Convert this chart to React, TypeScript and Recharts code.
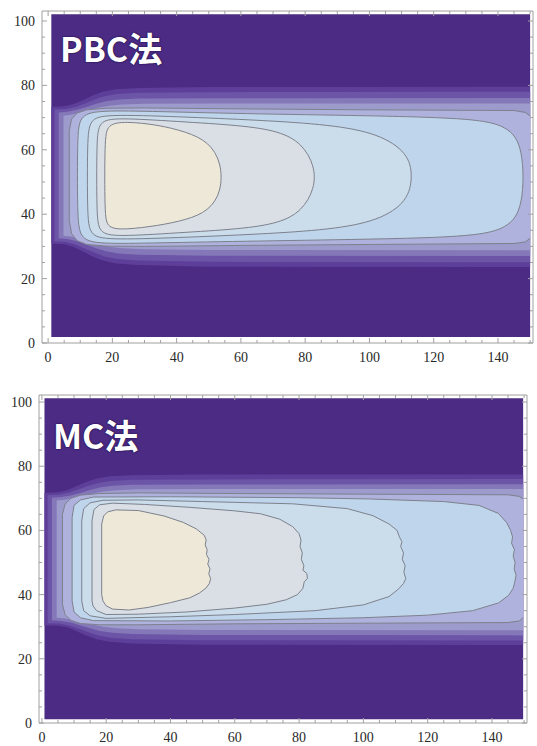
import { ScatterChart, Scatter, XAxis, YAxis } from 'recharts'

type Pt = [number, number]

// frame ticks (every 5, labelled every 20)
const xTicks = [0, 5, 10, 15, 20, 25, 30, 35, 40, 45, 50, 55, 60, 65, 70, 75, 80, 85, 90, 95, 100, 105, 110, 115, 120, 125, 130, 135, 140, 145, 150]
const yTicks = [0, 5, 10, 15, 20, 25, 30, 35, 40, 45, 50, 55, 60, 65, 70, 75, 80, 85, 90, 95, 100]
const xLabels = [0, 20, 40, 60, 80, 100, 120, 140]
const yLabels = [0, 20, 40, 60, 80, 100]

const levelColors = ['#4B2B84', '#5D3F99', '#6C54A7', '#8478B9', '#9D9ACC', '#AFB2DC', '#BFD5EC', '#CBDCEB', '#D9DFE5', '#EEE8D8']
const lineColor = '#7D818C'
const frameColor = '#A0A0A0'

// ---------- PBC法 ----------
const pbcBackground: Pt[] = [[1, 1.9], [150, 1.9], [150, 102.1], [1, 102.1]]
const pbcBand1: Pt[] = [[1, 73.3], [5, 73.5], [8, 74.2], [11, 75.5], [14, 76.9], [17, 78], [21, 78.8], [28, 79.2], [50, 79.5], [150, 79.6], [150, 23.6], [50, 23.7], [28, 24.2], [21, 24.7], [17, 25.6], [14, 26.8], [11, 28.3], [8, 29.8], [5, 30.7], [1, 30.9]]
const pbcBand2: Pt[] = [[2, 72.5], [5.5, 72.7], [8.5, 73.3], [11.5, 74.4], [14.5, 75.6], [17.5, 76.6], [21.5, 77.3], [28, 77.7], [50, 77.9], [150, 78], [150, 25.1], [50, 25.2], [28, 25.6], [21.5, 26.1], [17.5, 26.9], [14.5, 28], [11.5, 29.3], [8.5, 30.6], [5.5, 31.4], [2, 31.6]]
const pbcBand3: Pt[] = [[3.3, 71.6], [6, 71.8], [9, 72.4], [12, 73.3], [15, 74.3], [18, 75.1], [22, 75.6], [28, 75.9], [50, 76], [150, 76.1], [150, 27], [50, 27.1], [28, 27.4], [22, 27.8], [18, 28.5], [15, 29.4], [12, 30.5], [9, 31.6], [6, 32.3], [3.3, 32.5]]
const pbcBand4: Pt[] = [[4.8, 70.6], [7, 70.9], [10, 71.5], [13, 72.3], [16, 73.1], [19, 73.7], [23, 74.1], [30, 74.3], [50, 74.4], [150, 74.4], [150, 28.8], [50, 28.9], [30, 29.1], [23, 29.4], [19, 29.9], [16, 30.6], [13, 31.5], [10, 32.4], [7, 33.1], [4.8, 33.3]]
const pbcLevel5: Pt[] = [[150, 70.5], [148.5, 71.6], [145, 72.2], [100, 72.4], [60, 72.7], [30, 73], [18, 72.9], [12, 72.4], [9, 71.4], [7.3, 69.5], [6.6, 66], [6.6, 38], [7.3, 34], [9, 31.8], [12, 30.6], [18, 30.1], [30, 30], [60, 30.3], [100, 30.6], [145, 30.9], [148.5, 31.4], [150, 32.5]]
const pbcLevel6: Pt[] = [[9.1, 40], [9.1, 64], [9.8, 70.5], [15, 72.2], [30, 72], [60, 71.2], [100, 70.6], [132, 69.8], [143, 67.5], [148, 61], [148, 42], [143, 35.5], [132, 33], [100, 32.2], [60, 31.6], [30, 31], [15, 30.8], [9.8, 32.5]]
const pbcLevel7: Pt[] = [[12.2, 40], [12.2, 63], [12.9, 69.5], [18, 71], [40, 70.3], [66, 69.2], [88, 67.8], [103, 65], [112, 59], [113.5, 52], [112, 44], [103, 38], [88, 35.2], [66, 33.8], [40, 32.7], [18, 32], [12.9, 33.5]]
const pbcLevel8: Pt[] = [[15.1, 40], [15.1, 63], [15.8, 68.8], [21, 70], [40, 68.8], [60, 67.6], [72, 65.8], [79, 62], [83, 55], [83, 48], [79, 41], [72, 37.2], [60, 35.4], [40, 34.2], [21, 33], [15.8, 34.2]]
const pbcLevel9: Pt[] = [[17.6, 40], [17.6, 63], [18.4, 68], [24, 68.8], [34, 67.8], [43, 65.6], [50, 62.5], [54, 56], [54, 47], [50, 41], [43, 38.2], [34, 36.4], [24, 35.2], [18.4, 35.6]]

// ---------- MC法 ----------
const mcBackground: Pt[] = [[0.8, 1.2], [149.7, 1.2], [149.7, 101.2], [0.8, 101.2]]
const mcBand1: Pt[] = [[0.8, 71.7], [5, 71.9], [8, 72.6], [11, 73.9], [14, 75.2], [17, 76.2], [21, 76.9], [28, 77.2], [50, 77.4], [149.7, 77.4], [149.7, 24.3], [50, 24.4], [28, 24.8], [21, 25.3], [17, 26.1], [14, 27.2], [11, 28.5], [8, 29.8], [5, 30.3], [0.8, 30.4]]
const mcBand2: Pt[] = [[1.8, 71], [5.5, 71.2], [8.5, 71.8], [11.5, 72.8], [14.5, 73.9], [17.5, 74.8], [21.5, 75.4], [28, 75.8], [50, 75.9], [149.7, 76], [149.7, 25.7], [50, 25.8], [28, 26.1], [21.5, 26.6], [17.5, 27.3], [14.5, 28.3], [11.5, 29.4], [8.5, 30.4], [5.5, 31], [1.8, 31.1]]
const mcBand3: Pt[] = [[3.1, 70.2], [6, 70.4], [9, 70.9], [12, 71.7], [15, 72.6], [18, 73.4], [22, 73.9], [28, 74.2], [50, 74.3], [149.7, 74.4], [149.7, 27.3], [50, 27.4], [28, 27.7], [22, 28.1], [18, 28.7], [15, 29.5], [12, 30.4], [9, 31.3], [6, 31.8], [3.1, 32]]
const mcBand4: Pt[] = [[4.6, 69.3], [7, 69.6], [10, 70.1], [13, 70.8], [16, 71.5], [19, 72.1], [23, 72.5], [30, 72.8], [50, 72.9], [149.7, 72.9], [149.7, 28.9], [50, 29], [30, 29.2], [23, 29.5], [19, 30], [16, 30.6], [13, 31.3], [10, 32], [7, 32.6], [4.6, 32.8]]
const mcLevel5: Pt[] = [[149.7, 69.8], [148.5, 70.6], [145, 71.1], [100, 71.3], [60, 71.5], [30, 71.7], [18, 71.5], [12, 71], [9, 70], [7.2, 68.2], [6.4, 65], [6.4, 37], [7.2, 33.8], [9, 32], [12, 31], [18, 30.6], [30, 30.6], [60, 30.9], [100, 31.1], [145, 31.3], [148.5, 31.8], [149.7, 32.8]]
const mcLevel6: Pt[] = [[9.4, 38], [9.4, 64], [10, 67.8], [12, 69.5], [16, 70.4], [40, 70.5], [80, 70.2], [102, 69.8], [125, 69], [136, 67.8], [142, 65.3], [144.6, 62.4], [145.8, 60], [146.4, 58], [146.1, 56], [147, 54], [146.6, 52], [147.2, 50], [146.9, 48], [147.5, 46], [147.1, 44], [146.6, 42], [145.2, 39.8], [142, 37.4], [134, 35], [120, 33.6], [100, 32.8], [70, 32.2], [40, 31.8], [16, 31.9], [12, 32.8], [10, 34.6]]
const mcLevel7: Pt[] = [[12.4, 38], [12.4, 63], [13, 66.8], [15, 68.6], [19, 69.4], [30, 69.5], [50, 69], [78, 68.3], [95, 66.8], [103, 64.6], [108, 62], [110.5, 60], [111.2, 58], [112, 56.5], [111.6, 55], [112.5, 53], [112.1, 51], [113, 49], [112.6, 47], [113.2, 45], [112.5, 43.5], [111, 41.8], [108, 39.4], [100, 36.8], [85, 35], [60, 33.8], [40, 33.1], [20, 32.6], [15, 33.4], [13, 35]]
const mcLevel8: Pt[] = [[15.6, 38], [15.6, 63], [16.2, 66.5], [18, 68], [22, 68.5], [32, 68.1], [46, 67.2], [60, 66.1], [68, 65.2], [74, 63.5], [78, 61.2], [80, 59], [80.6, 57], [80.3, 55], [81, 53], [80.7, 51], [81.5, 49], [81.2, 47.6], [82.4, 46.6], [82.6, 45], [81.6, 44], [81.2, 42], [79.5, 40], [76, 38.4], [70, 37], [60, 35.8], [45, 34.6], [30, 33.9], [20, 33.8], [17, 35], [15.9, 36.5]]
const mcLevel9: Pt[] = [[18.6, 40], [18.6, 62], [19.2, 64.5], [20.5, 65.8], [23, 66.4], [30, 66.2], [38, 64.5], [44, 62.5], [48, 60.5], [50.5, 58.5], [51.1, 57], [50.8, 55.5], [51.4, 54], [51.2, 52.5], [52, 51], [51.6, 49.5], [52.3, 48], [51.9, 46.5], [52.5, 45], [52.1, 43.5], [51, 42], [49, 40.5], [46, 39], [40, 37.5], [33, 36], [27, 35.2], [22, 35.5], [20, 36.5], [19, 38]]

interface Level {
  pts: Pt[]
  fill: string
  stroke?: string
  curve: 'linearClosed' | 'basisClosed' | 'linear'
}

const pbcLevels: Level[] = [
  { pts: pbcBackground, fill: levelColors[0], curve: 'linearClosed' },
  { pts: pbcBand1, fill: levelColors[1], curve: 'linearClosed' },
  { pts: pbcBand2, fill: levelColors[2], curve: 'linearClosed' },
  { pts: pbcBand3, fill: levelColors[3], curve: 'linearClosed' },
  { pts: pbcBand4, fill: levelColors[4], curve: 'linearClosed' },
  { pts: pbcLevel5, fill: levelColors[5], curve: 'linearClosed' },
  { pts: pbcLevel5, fill: 'none', stroke: lineColor, curve: 'linear' },
  { pts: pbcLevel6, fill: levelColors[6], stroke: lineColor, curve: 'basisClosed' },
  { pts: pbcLevel7, fill: levelColors[7], stroke: lineColor, curve: 'basisClosed' },
  { pts: pbcLevel8, fill: levelColors[8], stroke: lineColor, curve: 'basisClosed' },
  { pts: pbcLevel9, fill: levelColors[9], stroke: lineColor, curve: 'basisClosed' },
]

const mcLevels: Level[] = [
  { pts: mcBackground, fill: levelColors[0], curve: 'linearClosed' },
  { pts: mcBand1, fill: levelColors[1], curve: 'linearClosed' },
  { pts: mcBand2, fill: levelColors[2], curve: 'linearClosed' },
  { pts: mcBand3, fill: levelColors[3], curve: 'linearClosed' },
  { pts: mcBand4, fill: levelColors[4], curve: 'linearClosed' },
  { pts: mcLevel5, fill: levelColors[5], curve: 'linearClosed' },
  { pts: mcLevel5, fill: 'none', stroke: lineColor, curve: 'linear' },
  { pts: mcLevel6, fill: levelColors[6], stroke: lineColor, curve: 'linearClosed' },
  { pts: mcLevel7, fill: levelColors[7], stroke: lineColor, curve: 'linearClosed' },
  { pts: mcLevel8, fill: levelColors[8], stroke: lineColor, curve: 'linearClosed' },
  { pts: mcLevel9, fill: levelColors[9], stroke: lineColor, curve: 'linearClosed' },
]

const tickStyle = { fontFamily: '"Liberation Serif", "DejaVu Serif", serif', fontSize: 14 }
const tickFill = '#2a2a2a'

const hidden = () => <g />

const BottomTick = ({ x, y, payload }: any) => {
  const v = payload.value
  const major = xLabels.includes(v)
  return (
    <g>
      <line x1={x} x2={x} y1={y} y2={y - (major ? 5 : 3)} stroke={frameColor} />
      {major && (
        <text x={x} y={y + 19} textAnchor="middle" fill={tickFill} style={tickStyle}>{v}</text>
      )}
    </g>
  )
}

const TopTick = ({ x, y, payload }: any) => {
  const major = xLabels.includes(payload.value)
  return <line x1={x} x2={x} y1={y} y2={y + (major ? 5 : 3)} stroke={frameColor} />
}

const LeftTick = ({ x, y, payload }: any) => {
  const v = payload.value
  const major = yLabels.includes(v)
  return (
    <g>
      <line x1={x} x2={x + (major ? 5 : 3)} y1={y} y2={y} stroke={frameColor} />
      {major && (
        <text x={x - 7} y={y + 5} textAnchor="end" fill={tickFill} style={tickStyle}>{v}</text>
      )}
    </g>
  )
}

const RightTick = ({ x, y, payload }: any) => {
  const major = yLabels.includes(payload.value)
  return <line x1={x} x2={x - (major ? 5 : 3)} y1={y} y2={y} stroke={frameColor} />
}

interface PanelProps {
  top: number
  height: number
  margin: { top: number; right: number; bottom: number; left: number }
  xDomain: [number, number]
  yDomain: [number, number]
  levels: Level[]
  title: string
  titleLeft: number
  titleTop: number
}

// axes are 1px thick so they still render; margins are reduced by that pixel
function ContourPanel({ top, height, margin, xDomain, yDomain, levels, title, titleLeft, titleTop }: PanelProps) {
  const m = { top: margin.top - 1, right: margin.right - 1, bottom: margin.bottom - 1, left: margin.left - 1 }
  return (
    <div style={{ position: 'absolute', left: 0, top, width: 537, height }}>
      <ScatterChart width={537} height={height} margin={m} style={{ overflow: 'visible' }}>
        <XAxis type="number" dataKey="x" xAxisId={0} domain={xDomain} allowDataOverflow ticks={xTicks} interval={0}
          height={1} tickSize={0} tickMargin={0} tick={<BottomTick />} stroke={frameColor} />
        <XAxis type="number" dataKey="x" xAxisId="top" orientation="top" domain={xDomain} allowDataOverflow ticks={xTicks} interval={0}
          height={1} tickSize={0} tickMargin={0} tick={<TopTick />} stroke={frameColor} />
        <YAxis type="number" dataKey="y" yAxisId={0} domain={yDomain} allowDataOverflow ticks={yTicks} interval={0}
          width={1} tickSize={0} tickMargin={0} tick={<LeftTick />} stroke={frameColor} />
        <YAxis type="number" dataKey="y" yAxisId="right" orientation="right" domain={yDomain} allowDataOverflow ticks={yTicks} interval={0}
          width={1} tickSize={0} tickMargin={0} tick={<RightTick />} stroke={frameColor} />
        {levels.map((lv, i) => (
          <Scatter
            key={`level-${i}`}
            xAxisId={0}
            yAxisId={0}
            data={lv.pts.map(([x, y]) => ({ x, y }))}
            dataKey="y"
            fill={lv.fill}
            line={{ fill: lv.fill, stroke: lv.stroke ?? 'none', strokeWidth: 1 }}
            lineType="joint"
            lineJointType={lv.curve}
            shape={hidden}
            legendType="none"
            isAnimationActive={false}
          />
        ))}
      </ScatterChart>
      <div
        style={{
          position: 'absolute',
          left: titleLeft,
          top: titleTop,
          fontFamily: '"Noto Sans CJK JP", "Noto Sans", sans-serif',
          fontWeight: 700,
          fontSize: 34,
          lineHeight: '34px',
          color: '#ffffff',
          textShadow: '0 0 2px #1c0d40, 0 0 1px #1c0d40',
          whiteSpace: 'nowrap',
        }}
      >
        {title}
      </div>
    </div>
  )
}

export default function App() {
  return (
    <div style={{ position: 'absolute', left: 0, top: 0, width: 537, height: 746, background: '#fff' }}>
      <ContourPanel
        top={0}
        height={372}
        margin={{ top: 11, right: 4, bottom: 29, left: 42 }}
        xDomain={[-1.9, 150.9]}
        yDomain={[0, 103.1]}
        levels={pbcLevels}
        title="PBC法"
        titleLeft={60}
        titleTop={31}
      />
      <ContourPanel
        top={374}
        height={372}
        margin={{ top: 21, right: 10, bottom: 23, left: 39 }}
        xDomain={[-0.9, 150.9]}
        yDomain={[0, 102.2]}
        levels={mcLevels}
        title="MC法"
        titleLeft={53}
        titleTop={44}
      />
    </div>
  )
}
